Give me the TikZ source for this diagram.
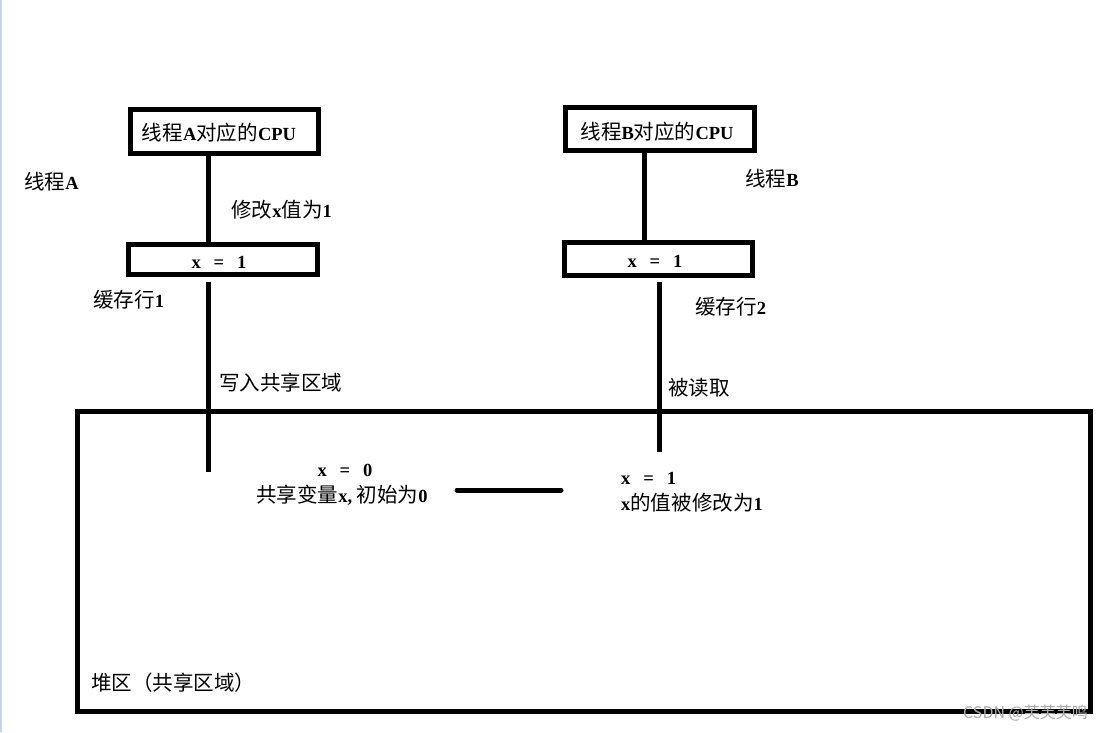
\documentclass[tikz,border=0pt]{standalone}
\usepackage{fontspec}
\setmainfont{Liberation Serif}
\newfontfamily\cjk[Scale=1.11]{Noto Sans CJK SC}
\newfontfamily\cjkwm{Noto Sans CJK SC}
\newcommand\zh[1]{{\cjk\mdseries #1}}
\begin{document}
\begin{tikzpicture}[x=1pt,y=-1pt,
  box/.style={draw, line width=5pt, inner sep=0pt},
  lbl/.style={font=\fontsize{18.5}{21}\selectfont\bfseries, inner sep=0pt, anchor=west},
  ctr/.style={font=\fontsize{18.5}{21}\selectfont\bfseries, inner sep=0pt},
  link/.style={line width=5pt},
  eq/.style={font=\fontsize{18.5}{21}\selectfont\bfseries, inner sep=0pt}]
\useasboundingbox (0,0) rectangle (1106,732);
\fill[white] (0,0) rectangle (1106,732);
\draw[color={rgb,255:red,200;green,212;blue,228}, line width=2pt] (1,0) -- (1,732);

% heap region
\node[box, minimum width=1013pt, minimum height=299.5pt] (heap) at (584,561.25) {};

% thread A
\node[box, minimum width=188pt, minimum height=44pt] (cpuA) at (224.5,131.5) {};
\node[ctr] at (219,133) {\zh{线程}A\zh{对应的}CPU};
\node[box, minimum width=189pt, minimum height=30pt] (cacheA) at (223,259) {};
\node[eq] at (219,262) {x\hspace{0.7em}=\hspace{0.7em}1};

% thread B
\node[box, minimum width=189pt, minimum height=43pt] (cpuB) at (660,129) {};
\node[ctr] at (657,132) {\zh{线程}B\zh{对应的}CPU};
\node[box, minimum width=188pt, minimum height=33pt] (cacheB) at (658.5,259) {};
\node[eq] at (655,261) {x\hspace{0.7em}=\hspace{0.7em}1};

% connector guide points
\coordinate (ga) at (208.5,0);
\coordinate (gb) at (644,0);
\coordinate (a2top) at (208.5,282);
\coordinate (a2bot) at (208.5,472);
\coordinate (b2top) at (659,282);
\coordinate (b2bot) at (659,452);
\coordinate (hl) at (457,490);
\coordinate (hr) at (561,490);

\draw[link] (cpuA.south -| ga) -- (cacheA.north -| ga);
\draw[link] (a2top) -- (a2bot);
\draw[link] (cpuB.south -| gb) -- (cacheB.north -| gb);
\draw[link] (b2top) -- (b2bot);
\draw[link, line cap=round] (hl) -- (hr);

% labels
\node[lbl] (tA) at (24,182) {\zh{线程}A};
\node[lbl] (tB) at (745,179) {\zh{线程}B};
\node[lbl] (modA) at (231,210) {\zh{修改}x\zh{值为}1};
\node[lbl] (lineA) at (93,300) {\zh{缓存行}1};
\node[lbl] (lineB) at (695,307) {\zh{缓存行}2};
\node[lbl] (wr) at (219,383) {\zh{写入共享区域}};
\node[lbl] (rd) at (668,388) {\zh{被读取}};
\node[eq] (x0) at (345,470) {x\hspace{0.7em}=\hspace{0.7em}0};
\node[ctr] (sv) at (342,495) {\zh{共享变量}x, \zh{初始为}0};
\node[lbl] (x1) at (621,478) {x\hspace{0.7em}=\hspace{0.7em}1};
\node[lbl] (xm) at (621,503) {x\zh{的值被修改为}1};
\node[lbl] (heapl) at (91,683) {\zh{堆区（共享区域）}};

% watermark
\node[font=\cjkwm\fontsize{16}{18}\selectfont, text={rgb,255:red,170;green,170;blue,170}, inner sep=0pt, anchor=east] (wm) at (1088,713) {CSDN @芙芙芙鸣};
\end{tikzpicture}
\end{document}
